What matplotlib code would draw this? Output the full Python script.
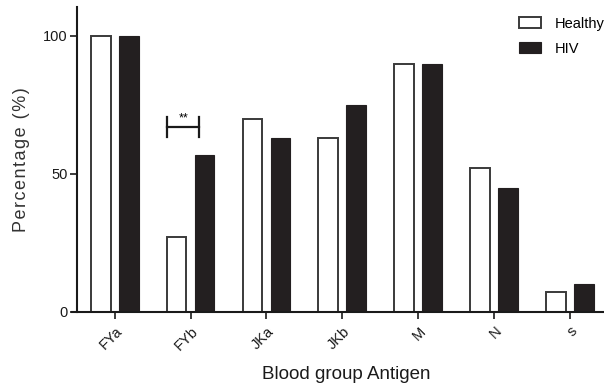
import matplotlib
matplotlib.use("Agg")
import matplotlib.pyplot as plt
import numpy as np

plt.rcParams["font.family"] = ["Liberation Sans", "DejaVu Sans"]

antigens = ["FYa", "FYb", "JKa", "JKb", "M", "N", "s"]
healthy = [100, 27, 70, 63, 90, 52, 7]
hiv = [100, 57, 63, 75, 90, 45, 10]

x = np.arange(len(antigens))
offset = 0.185
width = 0.26

fig = plt.figure(figsize=(6.04, 3.86), dpi=100)
ax = fig.add_axes((72 / 604, 0.1925, 532 / 604, 0.7886))

ax.bar(x - offset, healthy, width, color="white", edgecolor="#3a3a3a",
       linewidth=1.4, label="Healthy")
ax.bar(x + offset, hiv, width, color="#231f20", edgecolor="#231f20",
       linewidth=0.8, label="HIV")

ax.set_xlim(-0.563, 6.45)
ax.set_ylim(0, 110.4)
ax.spines["top"].set_visible(False)
ax.spines["right"].set_visible(False)
ax.spines["left"].set_position(("data", -0.496))
for s in ("left", "bottom"):
    ax.spines[s].set_linewidth(1.5)
    ax.spines[s].set_color("#1a1a1a")

ax.set_yticks([0, 50, 100])
ax.tick_params(axis="y", length=5, width=1.2, labelsize=10.5, pad=2, colors="#1a1a1a")
ax.set_xticks(x)
ax.set_xticklabels(antigens, rotation=45, ha="right", rotation_mode="anchor")
ax.tick_params(axis="x", length=5, width=1.2, labelsize=10.5, pad=4, colors="#1a1a1a")

ylabel = "\u200a".join("Percentage (%)")
ax.set_ylabel(ylabel, fontsize=13, color="#333333", labelpad=9)
ax.set_xlabel("Blood group Antigen", fontsize=13.5, color="#1a1a1a")
ax.xaxis.set_label_coords(0.516, -0.177)

# significance bracket over FYb
bx0, bx1, by = 1 - 0.31, 1 + 0.115, 67
ax.plot([bx0, bx1], [by, by], color="#1a1a1a", lw=1.6)
ax.plot([bx0, bx0], [by - 3.5, by + 3.5], color="#1a1a1a", lw=1.6)
ax.plot([bx1, bx1], [by - 3.5, by + 3.5], color="#1a1a1a", lw=1.6)
ax.text((bx0 + bx1) / 2, by + 1, "**", ha="center", va="bottom", fontsize=9)

leg = ax.legend(loc="upper right", bbox_to_anchor=(1.025, 1.012), frameon=False,
                fontsize=10.5, handlelength=1.5, handleheight=0.8,
                handletextpad=0.9, labelspacing=0.75)

fig.savefig("out.png", dpi=100)
